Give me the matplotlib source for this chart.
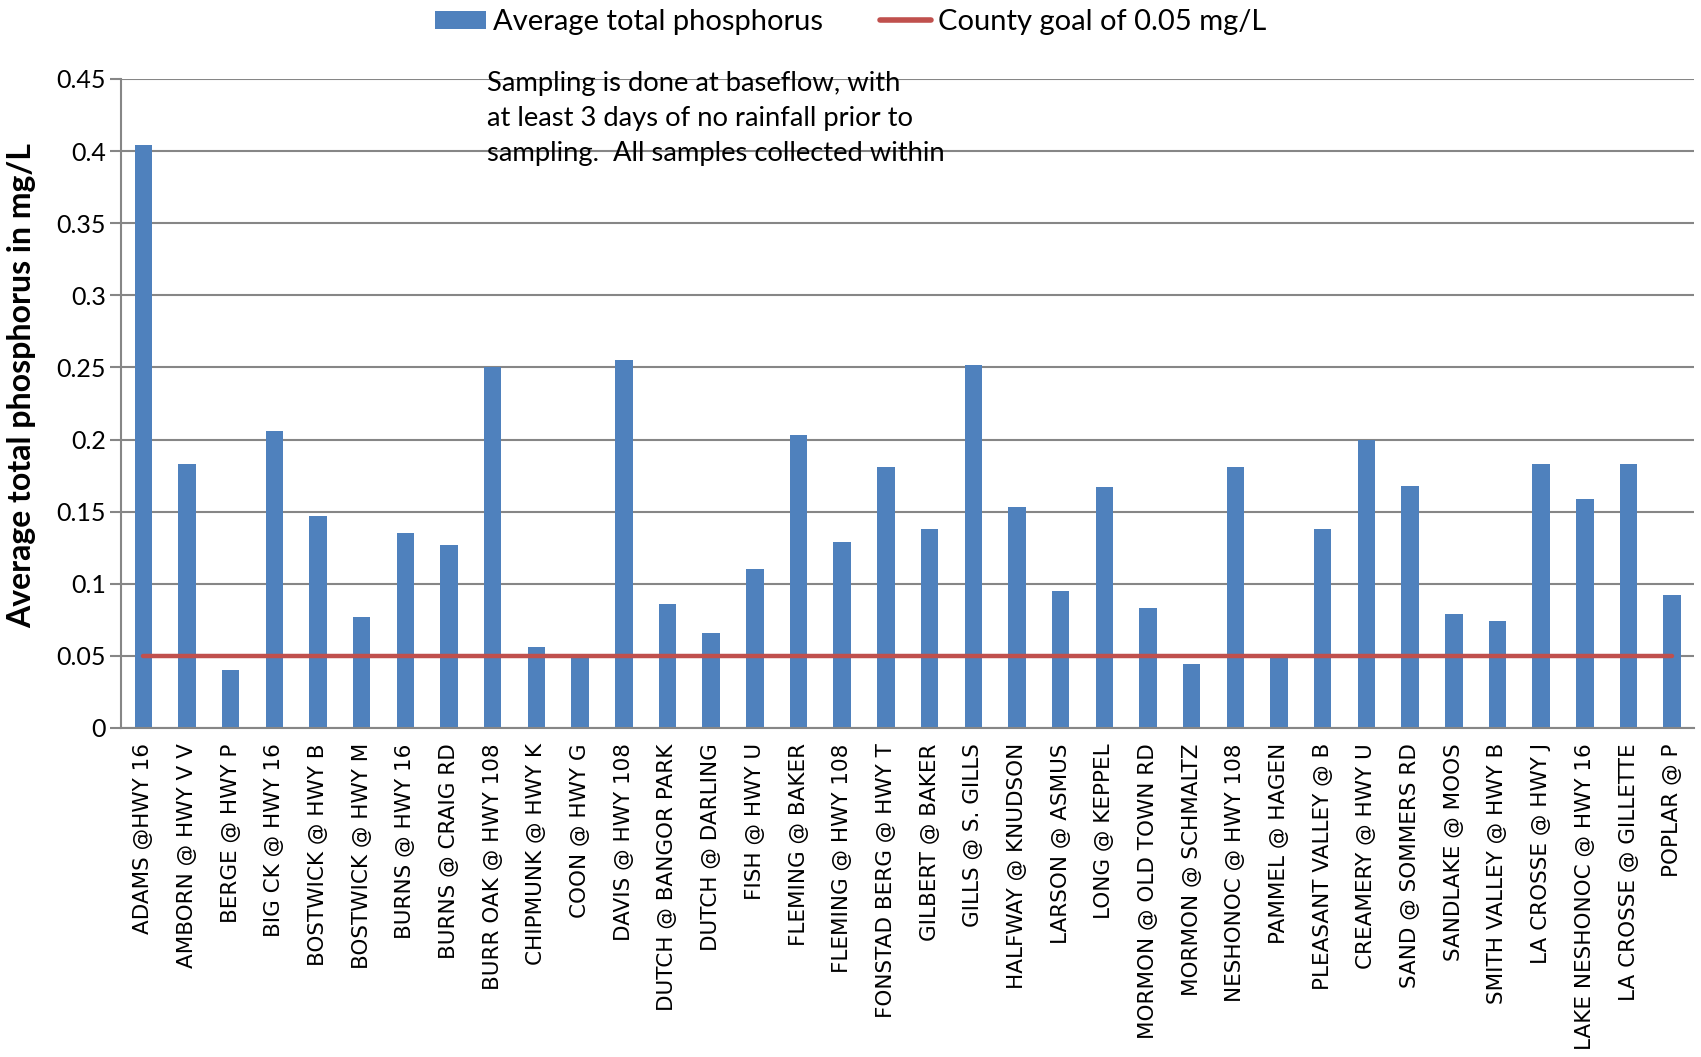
import matplotlib
matplotlib.use("Agg")
import matplotlib.pyplot as plt
from matplotlib.patches import Patch
from matplotlib.lines import Line2D

sites = [
    "ADAMS @HWY 16", "AMBORN @ HWY V V", "BERGE @ HWY P", "BIG CK @ HWY 16",
    "BOSTWICK @ HWY B", "BOSTWICK @ HWY M", "BURNS @ HWY 16", "BURNS @ CRAIG RD",
    "BURR OAK @ HWY 108", "CHIPMUNK @ HWY K", "COON @ HWY G", "DAVIS @ HWY 108",
    "DUTCH @ BANGOR PARK", "DUTCH @ DARLING", "FISH @ HWY U", "FLEMING @ BAKER",
    "FLEMING @ HWY 108", "FONSTAD BERG @ HWY T", "GILBERT @ BAKER", "GILLS @ S. GILLS",
    "HALFWAY @ KNUDSON", "LARSON @ ASMUS", "LONG @ KEPPEL", "MORMON @ OLD TOWN RD",
    "MORMON @ SCHMALTZ", "NESHONOC @ HWY 108", "PAMMEL @ HAGEN", "PLEASANT VALLEY @ B",
    "CREAMERY @ HWY U", "SAND @ SOMMERS RD", "SANDLAKE @ MOOS", "SMITH VALLEY @ HWY B",
    "LA CROSSE @ HWY J", "LAKE NESHONOC @ HWY 16", "LA CROSSE @ GILLETTE", "POPLAR @ P",
]
avg_tp = [
    0.404, 0.183, 0.040, 0.206, 0.147, 0.077, 0.135, 0.127,
    0.250, 0.056, 0.050, 0.255, 0.086, 0.066, 0.110, 0.203,
    0.129, 0.181, 0.138, 0.252, 0.153, 0.095, 0.167, 0.083,
    0.044, 0.181, 0.050, 0.138, 0.200, 0.168, 0.079, 0.074,
    0.183, 0.159, 0.183, 0.092,
]
goal = [0.05] * len(sites)
yticks = [0, 0.05, 0.1, 0.15, 0.2, 0.25, 0.3, 0.35, 0.4, 0.45]
ytick_labels = ["0", "0.05", "0.1", "0.15", "0.2", "0.25", "0.3", "0.35", "0.4", "0.45"]

SANS = ["Lato", "DejaVu Sans"]
BLUE = "#4F81BD"
RED = "#C0504D"
GRID = "#868686"

fig = plt.figure(figsize=(17.01, 10.57), dpi=100)
ax = fig.add_axes([0.0714, 0.3113, 0.9245, 0.614])

x = list(range(len(sites)))
ax.bar(x, avg_tp, width=0.4, color=BLUE, zorder=2)
ax.plot(x, goal, color=RED, lw=3.2, solid_capstyle="round", zorder=3)

ax.set_xlim(-0.5, len(sites) - 0.5)
ax.set_ylim(0, 0.45)
ax.set_yticks(yticks)
ax.set_yticklabels(ytick_labels, fontfamily=SANS, fontsize=18)
ax.set_xticks(x)
ax.set_xticklabels(sites, rotation=90, fontfamily="DejaVu Sans", fontsize=15.5)
ax.tick_params(axis="x", length=0, pad=11)
ax.tick_params(axis="y", length=8, width=1.5, color=GRID, pad=3)
ax.grid(axis="y", color=GRID, lw=1.5, zorder=0)
for s in ("top", "right"):
    ax.spines[s].set_visible(False)
for s in ("left", "bottom"):
    ax.spines[s].set_color(GRID)
    ax.spines[s].set_linewidth(1.5)

ax.set_ylabel("Average total phosphorus in mg/L", fontfamily=SANS, fontsize=23,
              fontweight="bold")
ax.yaxis.set_label_coords(-0.054, 0.527)

ax.text(0.2326, 1.012, "Sampling is done at baseflow, with\nat least 3 days of no rainfall prior to\n"
        "sampling.  All samples collected within", transform=ax.transAxes,
        ha="left", va="top", fontfamily=SANS, fontsize=19.7, linespacing=1.5)

handles = [Patch(facecolor=BLUE), Line2D([], [], color=RED, lw=4, solid_capstyle="round")]
labels = ["Average total phosphorus", "County goal of 0.05 mg/L"]
fig.legend(handles, labels, loc="center", bbox_to_anchor=(0.5, 0.979), ncol=2, frameon=False,
           prop={"family": SANS, "size": 21}, handlelength=1.75, handleheight=0.6,
           columnspacing=1.95, handletextpad=0.25)

fig.savefig("out.png", dpi=100)
